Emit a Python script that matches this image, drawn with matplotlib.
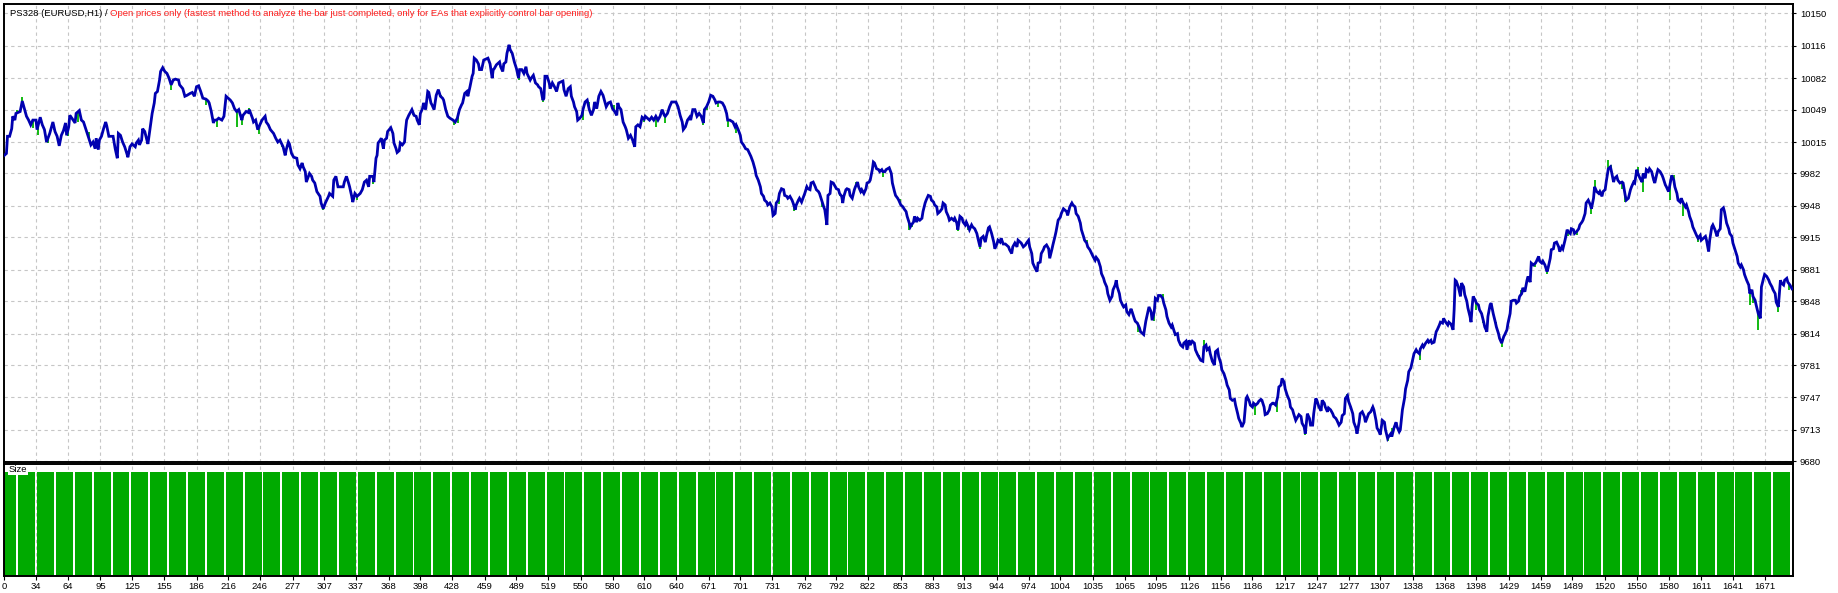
import numpy as np
import matplotlib
matplotlib.use('Agg')
import matplotlib.pyplot as plt

# balance curve (trade number, balance)
bal_trade = [4,6,7,9,11,12,14,15,19,21,23,25,27,29,31,34,35,38,40,42,44,47,50,52,54,56,58,60,62,63,65,66,68,71,72,75,77,79,82,84,86,88,90,91,93,94,96,98,100,101,103,105,107,109,111,112,114,116,118,120,121,123,125,128,129,131,132,134,135,137,139,140,142,144,146,147,149,151,152,154,156,158,160,162,164,166,169,170,173,175,177,180,182,184,186,188,190,192,195,197,198,200,202,203,205,207,210,212,214,216,218,220,222,224,226,229,230,233,235,236,239,240,242,244,246,248,251,252,254,256,259,261,263,265,268,270,271,273,274,276,278,281,282,284,286,287,289,290,293,295,296,298,300,303,304,306,308,311,312,315,316,318,320,322,325,326,328,330,331,333,334,336,338,341,343,345,347,349,350,
    353,354,356,357,358,360,361,363,364,366,367,370,372,373,375,376,378,379,381,383,384,385,387,389,390,392,394,395,397,398,400,401,403,405,406,408,409,411,413,415,417,419,420,422,424,426,429,431,433,435,437,438,440,442,443,445,447,448,449,451,453,454,456,458,460,462,464,466,467,468,470,473,474,476,477,479,480,482,483,485,487,489,491,492,494,496,498,499,502,503,505,507,509,510,512,514,515,516,518,520,521,523,525,527,529,531,533,534,536,538,540,541,543,544,546,547,549,551,552,554,556,558,560,562,563,565,567,569,571,573,574,576,578,580,582,584,585,586,588,590,592,593,595,597,599,601,602,604,606,608,610,611,613,615,617,619,621,623,625,627,629,630,632,634,636,638,640,642,644,646,647,649,651,653,654,656,658,660,662,664,666,667,669,671,673,675,677,678,680,682,684,686,688,689,691,
    694,696,697,699,701,702,704,706,708,711,713,715,716,718,720,721,723,724,726,727,729,731,732,734,735,737,738,740,742,743,745,746,748,750,751,753,754,756,757,759,761,762,764,765,767,768,770,772,773,775,776,778,780,781,783,784,786,787,789,791,792,794,795,797,798,799,801,802,804,805,807,809,810,812,813,815,816,818,820,821,823,824,826,827,828,830,832,833,835,836,838,839,842,844,845,847,848,850,851,853,855,856,858,859,861,862,863,865,866,868,869,871,873,874,876,877,879,881,882,884,885,887,888,890,892,893,895,896,898,899,901,903,904,906,907,909,911,912,914,915,917,918,920,921,923,925,926,928,929,931,933,934,936,937,939,941,942,944,945,947,948,950,952,953,955,956,958,959,961,963,964,966,967,969,971,972,974,975,977,978,980,982,983,985,986,988,989,991,993,994,996,997,999,1000,1002,1004,1005,1007,1008,1010,1011,1013,1015,1016,1018,1019,1021,1023,1024,1026,1027,1029,1030,1032,
    1035,1037,1038,1040,1042,1043,1045,1046,1048,1049,1051,1053,1054,1056,1057,1058,1060,1061,1063,1064,1066,1067,1069,1071,1072,1074,1075,1077,1079,1080,1082,1083,1085,1086,1088,1090,1091,1093,1094,1096,1097,1099,1101,1102,1104,1105,1107,1109,1110,1112,1113,1115,1116,1118,1120,1121,1123,1124,1126,1127,1129,1131,1132,1134,1135,1137,1139,1140,1142,1143,1145,1146,1148,1150,1151,1153,1154,1156,1157,1159,1161,1162,1164,1165,1167,1169,1170,1172,1173,1175,1176,1178,1180,1181,1183,1184,1186,1187,1189,1191,1192,1194,1195,1197,1198,1200,1202,1203,1205,1206,1208,1210,1211,1213,1214,1216,1217,1219,1221,1222,1224,1225,1227,1228,1230,1232,1233,1235,1236,1238,1240,1241,1243,1244,1246,1247,1249,1251,1252,1254,1255,1257,1258,1260,1262,1263,1265,1266,1268,1270,1271,1273,1274,1276,1277,1279,1281,1282,1284,1285,1287,1288,1290,1292,1293,1295,1296,1298,1300,1301,1303,1304,1306,1307,1309,1311,1312,1314,1315,1317,1318,1320,1322,1323,1325,1326,1328,1330,1331,1333,1334,1336,1337,1339,1341,1342,1344,1345,1347,1348,1350,1352,1353,1355,1356,1358,1360,1361,1363,1364,1366,1367,1369,1371,1372,
    1374,1376,1377,1378,1379,1381,1383,1384,1386,1387,1389,1390,1392,1393,1394,1395,1397,1398,1400,1401,1403,1405,1406,1408,1409,1411,1412,1414,1416,1417,1419,1420,1422,1424,1425,1427,1428,1430,1431,1433,1435,1436,1438,1439,1441,1442,1444,1446,1447,1449,1450,1452,1454,1455,1457,1458,1460,1461,1463,1465,1466,1468,1469,1471,1472,1474,1476,1477,1479,1480,1482,1484,1485,1487,1488,1490,1491,1493,1495,1496,1498,1499,1501,1502,1504,1506,1507,1509,1510,1512,1514,1515,1517,1518,1520,1521,1523,1525,1526,1528,1529,1531,1532,1534,1536,1537,1539,1540,1542,1544,1545,1547,1548,1550,1551,1553,1555,1556,1558,1559,1561,1562,1564,1566,1567,1569,1570,1572,1574,1575,1577,1578,1580,1581,1583,1585,1586,1588,1589,1591,1592,1594,1596,1597,1599,1600,1602,1603,1605,1607,1608,1610,1611,1613,1615,1616,1618,1619,1621,1622,1624,1626,1627,1629,1630,1632,1633,1635,1637,1638,1640,1641,1643,1645,1646,1648,1649,1651,1652,1654,1656,1657,1659,1660,1662,1663,1665,1667,1668,1670,1671,1673,1675,1676,1678,1679,1681,1682,1684,1686,1687,1689,1690,1692,1693,1695,1697]
bal_value = [10001,10003,10021,10021,10029,10042,10038,10045,10047,10058,10050,10042,10038,10033,10038,10038,10028,10041,10033,10028,10015,10024,10036,10026,10021,10011,10022,10027,10035,10022,10031,10043,10040,10035,10045,10048,10038,10036,10026,10019,10012,10015,10008,10019,10007,10017,10021,10029,10036,10032,10021,10021,10021,10008,9998,10024,10022,10015,10010,10003,9999,10010,10013,10010,10014,10017,10012,10017,10029,10026,10017,10013,10029,10045,10056,10066,10068,10080,10089,10093,10089,10087,10082,10075,10080,10081,10080,10075,10071,10063,10064,10066,10067,10063,10073,10074,10068,10061,10060,10058,10056,10047,10035,10038,10038,10040,10038,10042,10063,10061,10059,10056,10050,10047,10049,10038,10043,10047,10046,10049,10040,10036,10038,10028,10033,10038,10042,10036,10033,10028,10024,10019,10015,10017,10010,10001,10007,10015,10013,10003,9999,9998,9991,9987,9993,9989,9984,9973,9982,9979,9975,9972,9963,9958,9951,9945,9951,9958,9961,9958,9975,9979,9968,9968,9968,9973,9979,9972,9968,9958,9952,9961,9958,9961,9965,9973,9975,9968,9979,
    9979,9973,9998,10001,10014,10017,10019,10008,10017,10019,10026,10030,10024,10014,10008,10004,10006,10014,10012,10015,10028,10038,10043,10047,10049,10043,10042,10038,10033,10045,10050,10056,10049,10068,10067,10056,10054,10049,10064,10070,10063,10061,10059,10049,10042,10040,10038,10036,10040,10049,10054,10056,10066,10068,10063,10073,10084,10087,10103,10101,10097,10091,10091,10101,10102,10103,10097,10082,10091,10092,10096,10099,10094,10089,10097,10099,10108,10117,10112,10108,10099,10092,10082,10091,10091,10087,10094,10087,10080,10082,10085,10077,10075,10073,10071,10059,10061,10084,10084,10077,10071,10077,10073,10068,10077,10078,10079,10070,10063,10071,10073,10063,10057,10052,10047,10038,10040,10043,10049,10057,10059,10049,10043,10049,10057,10050,10063,10068,10064,10056,10052,10056,10057,10050,10047,10043,10056,10052,10049,10036,10031,10028,10019,10022,10017,10010,10031,10033,10031,10041,10039,10042,10040,10038,10041,10038,10042,10038,10042,10049,10043,10042,10045,10052,10057,10057,10057,10052,10043,10036,10028,10031,10038,10041,10038,10049,10049,10042,10045,10042,10035,10049,10052,10057,10064,10063,10059,10056,10057,10057,10056,10052,10045,10038,10038,
    10036,10031,10033,10028,10022,10015,10012,10008,10007,10000,9994,9986,9980,9975,9968,9961,9958,9954,9952,9949,9951,9947,9938,9940,9951,9954,9961,9966,9965,9959,9958,9956,9958,9954,9951,9944,9949,9954,9956,9952,9958,9961,9968,9966,9965,9972,9973,9968,9965,9963,9961,9954,9947,9944,9928,9959,9961,9973,9972,9968,9966,9965,9961,9958,9951,9958,9965,9966,9965,9959,9956,9965,9968,9973,9968,9963,9965,9961,9966,9972,9973,9975,9986,9994,9993,9987,9986,9984,9986,9984,9984,9986,9988,9982,9972,9963,9959,9956,9954,9949,9947,9945,9942,9937,9930,9926,9928,9931,9937,9931,9935,9933,9935,9942,9951,9954,9959,9958,9954,9952,9949,9947,9940,9942,9945,9951,9949,9942,9937,9933,9935,9933,9935,9930,9923,9937,9935,9931,9928,9931,9926,9923,9928,9926,9924,9919,9914,9905,9914,9916,9910,9916,9925,9926,9919,9910,9903,9908,9912,9910,9914,9908,9908,9907,9905,9902,9898,9905,9909,9905,9912,9910,9909,9905,9907,9909,9912,9905,9898,9888,9883,9879,9888,9889,9898,9902,9905,9907,9903,9893,9902,9907,9916,9921,9933,9936,9940,9945,9944,9942,9938,9947,9951,9949,9947,9940,9937,9930,9923,9916,9912,9909,9905,9902,
    9895,9891,9894,9891,9884,9877,9872,9868,9863,9856,9849,9853,9860,9865,9870,9863,9856,9849,9844,9842,9844,9837,9834,9840,9837,9830,9827,9825,9820,9816,9814,9813,9827,9832,9842,9837,9828,9837,9851,9849,9854,9854,9851,9846,9839,9832,9825,9821,9823,9816,9813,9814,9807,9802,9800,9804,9806,9797,9807,9802,9806,9804,9797,9792,9790,9786,9785,9800,9802,9797,9799,9793,9785,9781,9795,9797,9790,9783,9776,9772,9765,9760,9755,9746,9744,9745,9739,9730,9725,9720,9716,9721,9746,9748,9743,9739,9737,9741,9739,9741,9743,9745,9744,9737,9729,9730,9734,9739,9741,9741,9739,9748,9758,9760,9767,9763,9756,9749,9744,9737,9734,9730,9723,9725,9729,9727,9720,9716,9709,9730,9725,9718,9718,9730,9746,9744,9737,9733,9744,9741,9737,9732,9736,9734,9730,9727,9725,9723,9718,9721,9728,9730,9746,9749,9743,9737,9730,9721,9715,9709,9721,9730,9732,9727,9721,9727,9730,9732,9737,9734,9723,9715,9711,9708,9723,9721,9713,9704,9706,9709,9706,9715,9721,9716,9711,9713,9734,9746,9756,9765,9774,9778,9783,9793,9797,9795,9793,9798,9802,9800,9804,9807,9805,9807,9804,9805,9816,9818,9823,9826,9825,9830,9826,9823,9826,
    9824,9818,9839,9870,9869,9863,9853,9867,9863,9855,9848,9841,9832,9826,9842,9853,9849,9846,9844,9839,9835,9826,9821,9816,9832,9844,9846,9835,9826,9821,9814,9809,9804,9811,9813,9818,9825,9835,9848,9849,9849,9846,9848,9853,9856,9862,9858,9870,9874,9868,9888,9886,9888,9890,9895,9890,9888,9890,9886,9879,9883,9893,9902,9903,9909,9910,9905,9900,9905,9903,9912,9923,9921,9919,9924,9923,9919,9921,9924,9928,9931,9933,9940,9951,9954,9949,9945,9956,9968,9963,9961,9963,9958,9963,9965,9973,9987,9989,9984,9973,9977,9979,9975,9972,9973,9972,9959,9954,9956,9965,9968,9973,9972,9986,9982,9977,9973,9982,9977,9986,9984,9987,9984,9975,9972,9982,9986,9984,9980,9977,9970,9968,9963,9968,9980,9975,9968,9961,9954,9952,9956,9951,9947,9949,9942,9937,9931,9926,9921,9916,9914,9917,9912,9914,9916,9912,9900,9912,9926,9928,9923,9916,9921,9924,9944,9946,9942,9930,9924,9919,9916,9909,9902,9895,9888,9884,9886,9881,9876,9870,9865,9856,9860,9853,9849,9844,9835,9830,9863,9872,9876,9874,9870,9867,9863,9860,9856,9847,9842,9870,9867,9865,9870,9872,9868,9865,9861]

# equity excursions (green) at a trade
eq_trade = [16,21,31,36,45,51,64,74,84,162,188,195,205,224,229,236,245,267,306,338,
            353,391,418,430,434,464,473,484,491,503,514,552,558,574,581,610,621,630,666,669,680,689,
            697,708,738,752,778,795,811,836,852,861,864,907,917,928,931,1020,1029,
            1078,1093,1101,1113,1135,1140,1188,1199,1209,1218,1236,1276,1293,1299,1314,1318,1326,1345,1367,
            1398,1404,1417,1422,1440,1454,1465,1485,1493,1507,1510,1523,1526,1536,1539,1551,1556,1581,1585,1594,1608,1657,1660,1665,1684,1694]
eq_value = [10049,10062,10030,10022,10014,10028,10021,10036,10026,10070,10075,10054,10031,10031,10033,10051,10023,10010,9944,9954,
            9971,10043,10064,10033,10035,10097,10097,10108,10080,10080,10057,10038,10057,10052,10054,10036,10031,10035,10033,10049,10052,10031,
            10024,10008,9950,9943,9947,9958,9973,9978,9955,9923,9926,9922,9923,9903,9916,9938,9912,
            9816,9827,9856,9811,9792,9807,9729,9729,9732,9755,9708,9751,9722,9736,9701,9715,9711,9786,9830,
            9839,9825,9826,9800,9860,9884,9877,9916,9917,9939,9975,9996,9991,9966,9952,9989,9963,9954,9980,9937,9910,9844,9846,9818,9837,9860]

# lot size per trade (constant)
n_trades = 1697
size_values = [1.0] * n_trades

ytick_labels = ['10150','10116','10082','10049','10015','9982','9948','9915','9881','9848','9814','9781','9747','9713','9680']
xtick_labels = ['0','34','64','95','125','155','186','216','246','277','307','337','368','398','428','459','489','519','550','580',
                '610','640','671','701','731','762','792','822','853','883','913','944','974','1004','1035','1065','1095','1126',
                '1156','1186','1217','1247','1277','1307','1338','1368','1398','1429','1459','1489','1520','1550','1580','1611','1641','1671']

x_lo, x_hi = 3.7, 1697.9
y_lo, y_hi = 9679.3, 10159.8
fnt = 'Liberation Sans'
fs = 6.8
grid_kw = dict(color='#c6c6c6', linestyle=(0, (3, 3)), linewidth=0.8)

W, H = 1838, 593
fig = plt.figure(figsize=(W/100, H/100), dpi=100)
ax = fig.add_axes([4/W, 1-462/H, 1789/W, 458/H])
ax2 = fig.add_axes([4/W, 1-576/H, 1789/W, 112/H])

xt = [x_lo] + [float(v) for v in xtick_labels[1:]]
yt = [float(v) for v in ytick_labels]

# main panel
ax.set_xlim(x_lo, x_hi)
ax.set_ylim(y_lo, y_hi)
for v in yt:
    ax.axhline(v, zorder=0, **grid_kw)
for v in xt[1:]:
    ax.axvline(v, zorder=0, **grid_kw)
base = np.interp(eq_trade, bal_trade, bal_value)
ax.vlines(eq_trade, base, eq_value, color='#00b400', linewidth=1.3, zorder=2)
ax.plot(bal_trade, bal_value, color='#0000b0', linewidth=2.0, zorder=3, solid_joinstyle='miter')
ax.yaxis.tick_right()
ax.set_yticks(yt)
ax.set_yticklabels(ytick_labels, fontsize=fs, family=fnt)
ax.tick_params(axis='y', length=2, pad=3, width=0.8)
ax.set_xticks([])
for s in ax.spines.values():
    s.set_linewidth(1.4)

t1 = ax.text(6/1789, 1-9/458, 'PS328 (EURUSD,H1) / ', transform=ax.transAxes, fontsize=fs,
             family=fnt, color='black', va='center', ha='left', zorder=5)
ax.annotate('Open prices only (fastest method to analyze the bar just completed, only for EAs that explicitly control bar opening)',
            xy=(1, 0.5), xycoords=t1, va='center', ha='left', fontsize=fs, family=fnt, color='#ff2020', zorder=5)

# size panel
ax2.set_xlim(x_lo, x_hi)
ax2.set_ylim(0, 1.08)
for v in xt[1:]:
    ax2.axvline(v, zorder=0, **grid_kw)
ax2.bar(np.arange(1, n_trades + 1), size_values, width=0.9, color='#00aa00', linewidth=0,
        antialiased=False, zorder=2)
ax2.set_yticks([])
ax2.set_xticks(xt)
ax2.set_xticklabels(xtick_labels, fontsize=fs, family=fnt)
ax2.tick_params(axis='x', length=3, pad=1, width=0.8)
for s in ax2.spines.values():
    s.set_linewidth(1.4)
ax2.text(5/1789, 1-6/112, 'Size', transform=ax2.transAxes, fontsize=fs, family=fnt, va='center', ha='left',
         zorder=5, bbox=dict(facecolor='white', edgecolor='none', pad=0.6))

fig.savefig('out.png', dpi=100)
